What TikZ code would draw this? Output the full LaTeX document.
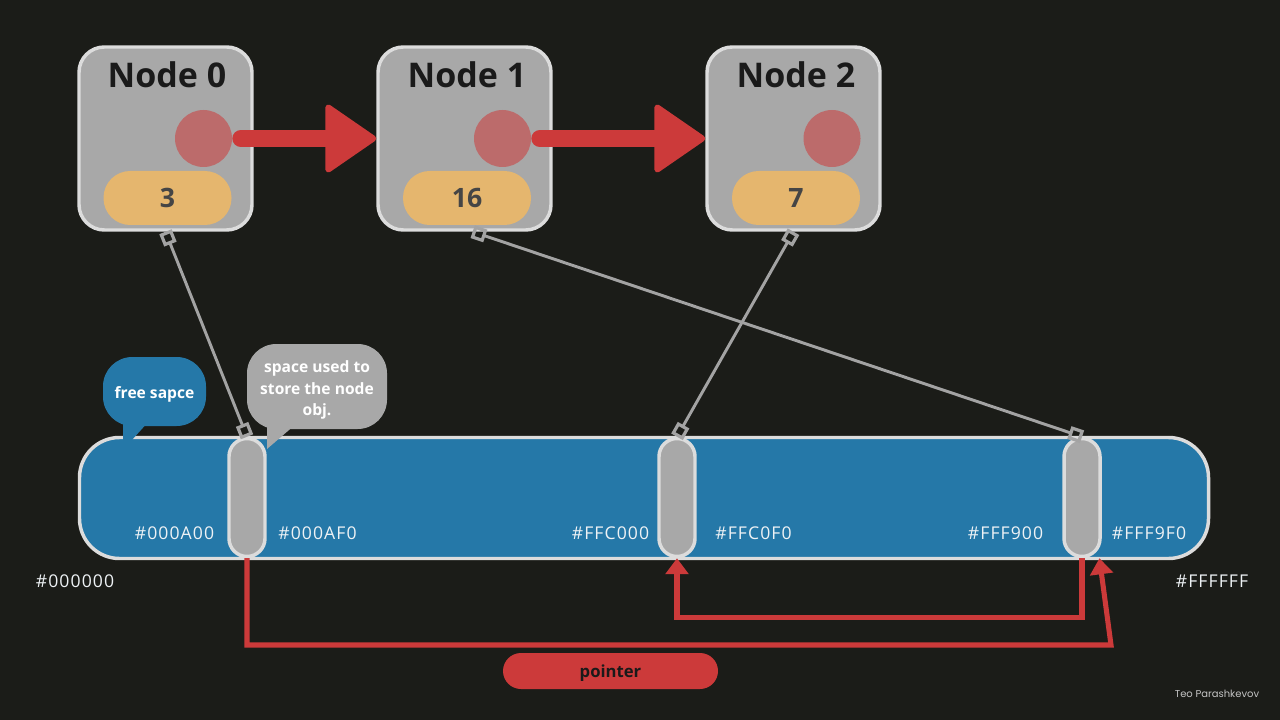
\documentclass[tikz,border=0pt]{standalone}
\usepackage{fontspec}
\setmainfont{Open Sans}
\newfontfamily\hexfont[LetterSpace=6]{Open Sans}
\newfontfamily\credfont{Poppins}
\usetikzlibrary{arrows.meta}
\definecolor{bg}{HTML}{1B1C18}
\definecolor{boxgray}{HTML}{A8A8A8}
\definecolor{rim}{HTML}{DCDCDC}
\definecolor{dot}{HTML}{BC6B6B}
\definecolor{pillc}{HTML}{E5B66E}
\definecolor{arrowred}{HTML}{CC3A3A}
\definecolor{memblue}{HTML}{2578A8}
\definecolor{linkgray}{HTML}{A3A3A3}
\definecolor{hextext}{HTML}{EEF2F5}
\definecolor{titletext}{HTML}{1A1A1A}
\definecolor{digittext}{HTML}{454545}
\definecolor{credit}{HTML}{C4C4C4}
\begin{document}
\begin{tikzpicture}[x=0.75pt,y=-0.75pt,
  nodebox/.style={draw=rim, line width=2.6pt, fill=boxgray, rounded corners=19pt,
    minimum width=129.75pt, minimum height=137.25pt, inner sep=0pt},
  titletxt/.style={anchor=base, inner sep=0pt, text=titletext,
    font=\fontsize{25.5}{30}\selectfont\bfseries},
  reddot/.style={circle, fill=dot, minimum size=42.75pt, inner sep=0pt},
  valpill/.style={fill=pillc, rounded corners=20pt, minimum width=96pt,
    minimum height=40.5pt, inner sep=0pt, text=digittext,
    font=\fontsize{20}{24}\selectfont\bfseries},
  bigarrow/.style={draw=arrowred, line width=12.75pt, line cap=round, shorten <=6.4pt,
    -{Triangle[length=40pt,width=54pt,line width=4.5pt,round]}},
  membar/.style={draw=rim, line width=2.6pt, fill=memblue, rounded corners=30pt,
    minimum width=846.75pt, minimum height=90.75pt, inner sep=0pt},
  slot/.style={draw=rim, line width=2.6pt, fill=boxgray, rounded corners=13.5pt,
    minimum width=27pt, minimum height=88.5pt, inner sep=0pt},
  hexlbl/.style={anchor=base, inner sep=0pt, text=hextext,
    font=\hexfont\fontsize{13.2}{15}\selectfont},
  link/.style={draw=linkgray, line width=2.2pt,
    {Square[open,length=10pt,width=10pt,line width=2.4pt]}-{Square[open,length=10pt,width=10pt,line width=2.4pt]}},
  ptrline/.style={draw=arrowred, line width=3.8pt,
    -{Triangle[length=12pt,width=17pt]}},
  bubble/.style={rounded corners=22pt, inner sep=0pt},
  bubbletxt/.style={text=white, align=center, inner sep=0pt,
    font=\fontsize{11.7}{16}\selectfont\bfseries},
]
% background
\fill[bg] (0,0) rectangle (1280,720);
\useasboundingbox (0,0) rectangle (1280,720);

% list nodes
\node[nodebox] (n0) at (165.5,138.5) {};
\node[nodebox] (n1) at (464.5,138.5) {};
\node[nodebox] (n2) at (793.5,138.5) {};
\node[titletxt] (t0) at (167,88) {Node 0};
\node[titletxt] (t1) at (467,88) {Node 1};
\node[titletxt] (t2) at (796,88) {Node 2};
\node[reddot] (d0) at (203.5,138.5) {};
\node[reddot] (d1) at (502.5,138.5) {};
\node[reddot] (d2) at (832,138.5) {};
\node[valpill] (v0) at (167.5,198) {3};
\node[valpill] (v1) at (467,198) {16};
\node[valpill] (v2) at (796,198) {7};

\draw[bigarrow] (d0.east) -- (n1.west);
\draw[bigarrow] (d1.east) -- (n2.west);

% memory bar
\node[membar] (mem) at (644,498) {};
\node[slot] (s1) at (247,497.5) {};
\node[slot] (s2) at (677,497.5) {};
\node[slot] (s3) at (1082,497.5) {};

\node[hexlbl] (h1) at (174.5,539) {\#000A00};
\node[hexlbl] (h2) at (317.5,539) {\#000AF0};
\node[hexlbl] (h3) at (610.5,539) {\#FFC000};
\node[hexlbl] (h4) at (753.5,539) {\#FFC0F0};
\node[hexlbl] (h5) at (1005.5,539) {\#FFF900};
\node[hexlbl] (h6) at (1149,539) {\#FFF9F0};
\node[hexlbl] (hlo) at (75,587) {\#000000};
\node[hexlbl] (hhi) at (1212,587) {\#FFFFFF};

% callouts
\fill[memblue] (123,410) -- (123,441) -- (131,441) -- (150,420) -- cycle;
\node[bubble, fill=memblue, minimum width=77.25pt, minimum height=51.75pt]
  (freeb) at (154.5,391.5) {};
\node[bubbletxt] (freet) at (154.5,394.5) {free sapce};
\fill[boxgray] (267,415) -- (267,449) -- (296,424) -- cycle;
\node[bubble, fill=boxgray, minimum width=105pt, minimum height=63.75pt]
  (usedb) at (317,386.5) {};
\node[bubbletxt] (usedt) at (317,390) {space used to\\store the node\\obj.};

% links node -> memory
\draw[link] (n0.south) -- (s1.north);
\draw[link] (n2.south) -- (s2.north);
\draw[link] (n1.-85) -- (s3.north);

% pointers
\coordinate (p1) at (1111,645);
\draw[ptrline] (s1.south) |- (p1) -- (s3.-74);
\draw[ptrline] (s3.south) -- ++(0,59) -| (s2.south);

\node[fill=arrowred, rounded corners=13.5pt, minimum width=161.25pt, minimum height=27pt,
  inner sep=0pt] (ptr) at (610.5,671) {};
\node[anchor=base, inner sep=0pt, text=titletext, font=\fontsize{12.5}{15}\selectfont\bfseries]
  (ptrlbl) at (610.5,677) {pointer};

\node[anchor=base, inner sep=0pt, text=credit, font=\credfont\fontsize{7.5}{9}\selectfont]
  (cred) at (1217,697) {Teo Parashkevov};
\end{tikzpicture}
\end{document}
